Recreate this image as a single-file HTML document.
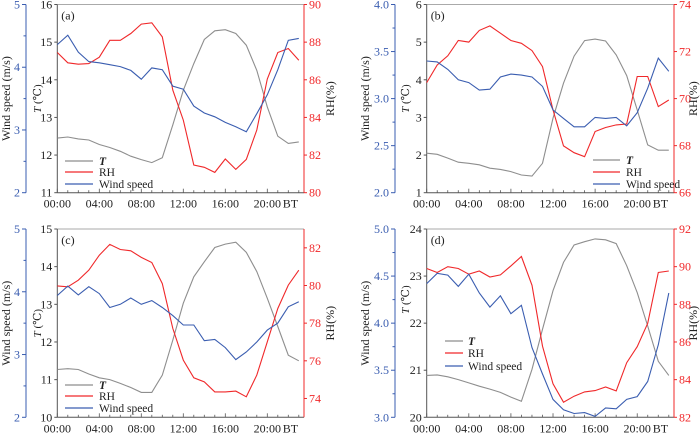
<!DOCTYPE html>
<html><head><meta charset="utf-8">
<style>
body{margin:0;background:#fff;}
svg{display:block;}
svg text{font-family:"Liberation Serif","DejaVu Serif",serif;}
</style></head>
<body>
<svg id="chart" width="700" height="435" viewBox="0 0 700 435" xmlns="http://www.w3.org/2000/svg"></svg>
<script>
const hours = [0,1,2,3,4,5,6,7,8,9,10,11,12,13,14,15,16,17,18,19,20,21,22,23];
const xTickLabels = ["00:00","04:00","08:00","12:00","16:00","20:00"];
const panelLabels = ["(a)","(b)","(c)","(d)"];

const tA = [12.45,12.48,12.43,12.4,12.28,12.2,12.1,11.97,11.88,11.8,11.93,12.8,13.72,14.43,15.07,15.3,15.33,15.23,14.92,14.25,13.28,12.5,12.31,12.35];
const rhA = [87.45,86.9,86.83,86.86,87.2,88.1,88.1,88.46,88.96,89.03,88.28,85.45,83.86,81.47,81.35,81.08,81.79,81.24,81.77,83.33,86.04,87.45,87.66,87.04];
const wsA = [4.36,4.51,4.24,4.09,4.07,4.04,4.01,3.95,3.81,3.99,3.96,3.7,3.65,3.38,3.27,3.21,3.12,3.05,2.97,3.26,3.56,3.96,4.43,4.46];

const tB = [2.05,2.02,1.92,1.81,1.78,1.74,1.65,1.62,1.56,1.47,1.44,1.78,2.98,3.91,4.63,5.04,5.08,5.03,4.66,4.11,3.2,2.27,2.13,2.13];
const rhB = [70.68,71.43,71.82,72.47,72.4,72.9,73.09,72.78,72.47,72.35,72.04,71.36,69.52,67.99,67.7,67.53,68.6,68.77,68.88,68.92,70.94,70.94,69.66,69.94];
const wsB = [3.4,3.39,3.31,3.2,3.17,3.09,3.1,3.23,3.26,3.25,3.23,3.13,2.88,2.79,2.7,2.7,2.8,2.79,2.8,2.71,2.85,3.11,3.43,3.29];

const tC = [11.27,11.29,11.27,11.15,11.05,11.0,10.9,10.79,10.66,10.66,11.12,12.05,13.03,13.73,14.13,14.51,14.6,14.65,14.38,13.87,13.16,12.41,11.65,11.5];
const rhC = [79.98,79.93,80.28,80.81,81.61,82.18,81.91,81.84,81.49,81.22,80.1,77.72,76.04,75.1,74.88,74.35,74.35,74.39,74.09,75.24,77.01,78.78,80.02,80.81];
const wsC = [3.94,4.09,3.95,4.08,3.97,3.75,3.8,3.9,3.8,3.86,3.75,3.62,3.47,3.47,3.22,3.24,3.11,2.92,3.04,3.2,3.39,3.5,3.76,3.84];

const tD = [20.89,20.9,20.86,20.8,20.73,20.66,20.6,20.53,20.43,20.34,21.02,21.87,22.69,23.29,23.66,23.73,23.79,23.77,23.69,23.22,22.65,21.94,21.19,20.89];
const rhD = [89.9,89.69,90.0,89.9,89.6,89.77,89.45,89.56,90.04,90.54,89.01,85.78,83.78,82.8,83.12,83.35,83.42,83.61,83.4,84.9,85.75,86.99,89.69,89.77];
const wsD = [4.42,4.53,4.51,4.39,4.52,4.32,4.17,4.29,4.1,4.19,3.74,3.46,3.19,3.08,3.04,3.05,3.01,3.1,3.09,3.19,3.22,3.38,3.77,4.32];

const tTicksA = [11,12,13,14,15,16];
const rhTicksA = [80,82,84,86,88,90];
const wsTicksA = ["2","3","4","5"];
const tTicksB = [1,2,3,4,5,6];
const rhTicksB = [66,68,70,72,74];
const wsTicksB = ["2.0","2.5","3.0","3.5","4.0"];
const tTicksC = [10,11,12,13,14,15];
const rhTicksC = [74,76,78,80,82];
const wsTicksC = ["2","3","4","5"];
const tTicksD = [20,21,22,23,24];
const rhTicksD = [82,84,86,88,90,92];
const wsTicksD = ["3.0","3.5","4.0","4.5","5.0"];

const NS = "http://www.w3.org/2000/svg";
const svg = document.getElementById("chart");
const GRAY="#8e8e8e", RED="#f0282a", BLUE="#3a5db0";
const FONT='"Liberation Serif","DejaVu Serif",serif';

function mk(tag, attrs, parent){
  const e=document.createElementNS(NS,tag);
  for(const k in attrs) e.setAttribute(k,attrs[k]);
  (parent||svg).appendChild(e); return e;
}
function txt(s, attrs, parent){ attrs["font-family"]=FONT; const e=mk("text",attrs,parent); e.textContent=s; return e; }

const panels = [
 {key:"a",L:57.3,R:304,T:4.5,B:192.7,wsX:26,t:tA,rh:rhA,ws:wsA,tT:tTicksA,rT:rhTicksA,wT:wsTicksA,tR:[11,16],rR:[80,90],wR:[2,5],
  titleWs:6,titleT:37,titleRh:330,leg:{x1:65,x2:93,tx:99,y:[161,172,184]}},
 {key:"b",L:426.7,R:674,T:4.5,B:192.7,wsX:395,t:tB,rh:rhB,ws:wsB,tT:tTicksB,rT:rhTicksB,wT:wsTicksB,tR:[1,6],rR:[66,74],wR:[2,4],
  titleWs:365,titleT:405,titleRh:693,leg:{x1:593,x2:620,tx:626,y:[160,172,184]}},
 {key:"c",L:57.3,R:304,T:229,B:417.3,wsX:26,t:tC,rh:rhC,ws:wsC,tT:tTicksC,rT:rhTicksC,wT:wsTicksC,tR:[10,15],rR:[73,83],wR:[2,5],
  titleWs:6,titleT:37,titleRh:330,leg:{x1:65,x2:93,tx:99,y:[385,396,408]}},
 {key:"d",L:426.7,R:674,T:229,B:417.3,wsX:395,t:tD,rh:rhD,ws:wsD,tT:tTicksD,rT:rhTicksD,wT:wsTicksD,tR:[20,24],rR:[82,92],wR:[3,5],
  titleWs:365,titleT:405,titleRh:693,leg:{x1:445,x2:463,tx:468,y:[341,353,366]}}
];

panels.forEach((p,i)=>{
  const g=mk("g",{});
  
  
  const step=(p.R-p.L-5.2)/23;
  const x=h=>p.L+h*step;
  const yT=v=>p.B-(v-p.tR[0])/(p.tR[1]-p.tR[0])*(p.B-p.T);
  const yR=v=>p.B-(v-p.rR[0])/(p.rR[1]-p.rR[0])*(p.B-p.T);
  const yW=v=>p.B-(v-p.wR[0])/(p.wR[1]-p.wR[0])*(p.B-p.T);
  const top=mk("line",{x1:p.L,y1:p.T,x2:p.R,y2:p.T,stroke:"#aaa","stroke-width":1},g);
  
  
  const bot=mk("line",{x1:p.L,y1:p.B,x2:p.R,y2:p.B,stroke:"#555","stroke-width":1},g);
  
  
  const la=mk("line",{x1:p.L,y1:p.T,x2:p.L,y2:p.B,stroke:"#555","stroke-width":1},g);
  
  
  const ra=mk("line",{x1:p.R,y1:p.T,x2:p.R,y2:p.B,stroke:RED,"stroke-width":1},g);
  
  
  const wa=mk("line",{x1:p.wsX,y1:p.T,x2:p.wsX,y2:p.B,stroke:BLUE,"stroke-width":1},g);
  
  
  hours.forEach(h=>{ mk("line",{x1:x(h),y1:p.B,x2:x(h),y2:p.B-(h%4===0?4:2.5),stroke:"#555","stroke-width":0.8},g); });
  xTickLabels.forEach((s,k)=>{
    const t=txt(s,{x:x(k*4),y:p.B+15,"font-size":12,"text-anchor":"middle",fill:"#222"},g);
    
    
  });
  const bt=txt("BT",{x:x(22.2),y:p.B+15,"font-size":12,"text-anchor":"middle",fill:"#222"},g);
  
  
  p.tT.forEach(v=>{
    mk("line",{x1:p.L-3,y1:yT(v),x2:p.L,y2:yT(v),stroke:"#555"},g);
    const t=txt(String(v),{x:p.L-5,y:yT(v)+4,"font-size":12,"text-anchor":"end",fill:"#222"},g);
    
    
  });
  p.rT.forEach(v=>{
    mk("line",{x1:p.R,y1:yR(v),x2:p.R+3,y2:yR(v),stroke:RED},g);
    const t=txt(String(v),{x:p.R+5,y:yR(v)+4,"font-size":12,"text-anchor":"start",fill:RED},g);
    
    
  });
  const wv=p.wT.map(parseFloat);
  for(let k=0;k<wv.length-1;k++){
    const mid=(wv[k]+wv[k+1])/2;
    mk("line",{x1:p.wsX-2.5,y1:yW(mid),x2:p.wsX,y2:yW(mid),stroke:BLUE},g);
  }
  p.wT.forEach(s=>{
    const v=parseFloat(s);
    mk("line",{x1:p.wsX-4,y1:yW(v),x2:p.wsX,y2:yW(v),stroke:BLUE},g);
    const t=txt(s,{x:p.wsX-6,y:yW(v)+4,"font-size":12,"text-anchor":"end",fill:BLUE},g);
    
    
  });
  const cy=(p.T+p.B)/2;
  const tw=txt("Wind  speed (m/s)",{x:p.titleWs,y:cy,"font-size":12,"text-anchor":"middle",fill:"#222",transform:`rotate(-90 ${p.titleWs} ${cy})`,dy:4},g);
  
  
  const tcy=(yT(p.tT[2])+yT(p.tT[3]))/2;
  const tt=mk("text",{x:p.titleT,y:tcy,"font-size":11,"font-family":FONT,"text-anchor":"middle",fill:"#222",transform:`rotate(-90 ${p.titleT} ${tcy})`,dy:4},g);
  tt.innerHTML='<tspan font-style="italic">T</tspan> (℃)';
  
  
  const tr=txt("RH(%)",{x:p.titleRh,y:cy,"font-size":12,"text-anchor":"middle",fill:"#222",transform:`rotate(-90 ${p.titleRh} ${cy})`,dy:4},g);
  
  
  const pl=txt(panelLabels[i],{x:p.L+4,y:p.T+15,"font-size":12,fill:"#222"},g);
  
  
  const series=[[p.t,yT,GRAY,'t-line'],[p.rh,yR,RED,'rh-line'],[p.ws,yW,BLUE,'wind-line']];
  series.forEach(([d,yf,c,n])=>{
    const pts=d.map((v,h)=>x(hours[h]).toFixed(1)+","+yf(v).toFixed(1)).join(" ");
    const pl2=mk("polyline",{points:pts,fill:"none",stroke:c,"stroke-width":1.1},g);
    
    
  });
  const names=["T","RH","Wind  speed"], cols=[GRAY,RED,BLUE];
  names.forEach((s,k)=>{
    const y=p.leg.y[k];
    const ll=mk("line",{x1:p.leg.x1,y1:y,x2:p.leg.x2,y2:y,stroke:cols[k],"stroke-width":1.2},g);
    
    
    const lt=txt(s,{x:p.leg.tx,y:y+4,"font-size":11.5,fill:"#222","font-style":k===0?"italic":"normal","font-weight":k===0?"bold":"normal"},g);
    
    
  });
});
</script>
</body></html>
